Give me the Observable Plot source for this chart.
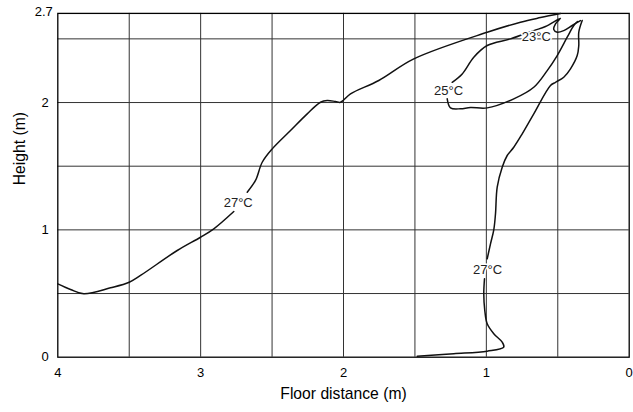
<!DOCTYPE html>
<html><head><meta charset="utf-8">
<script src="https://cdn.jsdelivr.net/npm/d3@7"></script>
<script src="https://cdn.jsdelivr.net/npm/@observablehq/plot@0.6"></script>
<style>body{margin:0;background:#fff}</style>
</head><body><div id="chart"></div>
<script>
// Isotherm traces [floor distance (m), height (m)]
const curve27LeftLower = [[4.0,0.576],[3.911,0.532],[3.818,0.498],[3.631,0.545],[3.5,0.589],[3.421,0.642],[3.164,0.838],[3.001,0.942],[2.908,1.008],[2.768,1.144]];
const curve27LeftUpper = [[2.674,1.296],[2.616,1.388],[2.569,1.531],[2.499,1.636],[2.371,1.780],[2.254,1.911],[2.161,2.002],[2.114,2.016],[2.056,2.008],[2.021,2.002],[1.951,2.068],[1.753,2.173],[1.508,2.343],[0.994,2.552],[0.761,2.631],[0.621,2.667],[0.481,2.699]];
const curve25Upper = [[1.239,2.159],[1.169,2.225],[1.088,2.356],[0.994,2.448],[0.831,2.500],[0.668,2.565],[0.586,2.597],[0.481,2.662],[0.516,2.618],[0.528,2.573],[0.504,2.552],[0.458,2.565],[0.399,2.605],[0.341,2.644]];
const curve25Lower = [[1.274,2.029],[1.251,1.958],[1.181,1.951],[1.111,1.961],[0.994,1.958],[0.808,2.029],[0.668,2.120],[0.574,2.251],[0.504,2.369],[0.434,2.513],[0.388,2.605],[0.362,2.636]];
const curve27RightLower = [[1.484,0.008],[1.228,0.027],[0.994,0.047],[0.878,0.079],[0.889,0.118],[0.948,0.184],[0.994,0.262],[1.011,0.367],[1.018,0.498],[1.013,0.616]];
const curve27RightUpper = [[0.994,0.773],[0.971,0.890],[0.948,1.000],[0.936,1.126],[0.924,1.335],[0.889,1.492],[0.854,1.584],[0.808,1.649],[0.749,1.754],[0.668,1.911],[0.551,2.134],[0.516,2.159],[0.458,2.199],[0.411,2.265],[0.364,2.369],[0.353,2.448],[0.353,2.552],[0.329,2.644]];

// Contour labels
const labelX = [2.737, 1.265, 0.650, 0.992];
const labelY = [1.211, 2.090, 2.513, 0.689];
const labelText = ["27°C", "25°C", "23°C", "27°C"];

// Grid and ticks
const gridX = [0.5, 1, 1.5, 2, 2.5, 3, 3.5];
const gridY = [0.5, 1, 1.5, 2, 2.5];
const xTicks = [4, 3, 2, 1, 0];
const yTicks = [0, 1, 2];
const yTopTick = [2.7];

const segments = {
  l1: curve27LeftLower, l2: curve27LeftUpper,
  u25: curve25Upper, d25: curve25Lower,
  r1: curve27RightLower, r2: curve27RightUpper
};
const lineData = Object.entries(segments).flatMap(([id, pts]) => pts.map(([x, y]) => ({id, x, y})));
const labels = labelText.map((t, i) => ({x: labelX[i], y: labelY[i], t}));

const chart = Plot.plot({
  width: 633, height: 412,
  marginLeft: 57.3, marginRight: 4.3, marginTop: 12.9, marginBottom: 55.3,
  style: {fontFamily: "'Liberation Sans', Arial, sans-serif", background: "#fff", color: "#000"},
  x: {domain: [4, 0]},
  y: {domain: [0, 2.7]},
  marks: [
    Plot.ruleX(gridX, {x: d => d, stroke: "#333", strokeWidth: 1}),
    Plot.ruleY(gridY, {y: d => d, stroke: "#333", strokeWidth: 1}),
    Plot.frame({stroke: "#000", strokeWidth: 1.3}),
    Plot.line(lineData, {x: "x", y: "y", z: "id", curve: "catmull-rom", stroke: "#111", strokeWidth: 1.5}),
    Plot.text(labels, {x: "x", y: "y", text: "t", fontSize: 13, fill: "#222", stroke: "white", strokeWidth: 3}),
    Plot.axisX({ticks: xTicks, tickFormat: d => String(d), tickSize: 0, tickPadding: 11, fontSize: 13, label: null}),
    Plot.axisY({ticks: yTicks, tickFormat: d => String(d), tickSize: 0, tickPadding: 9, fontSize: 13, label: null}),
    Plot.axisY({ticks: yTopTick, tickFormat: d => String(d), tickSize: 0, tickPadding: 5, dy: -2, fontSize: 13, label: null}),
    Plot.text(["Floor distance (m)"], {text: d => d, frameAnchor: "bottom", dy: 42, fontSize: 15.7}),
    Plot.text(["Height (m)"], {text: d => d, frameAnchor: "left", dx: -38, rotate: -90, fontSize: 15.7})
  ]
});
document.getElementById("chart").appendChild(chart);
</script>
</body></html>
